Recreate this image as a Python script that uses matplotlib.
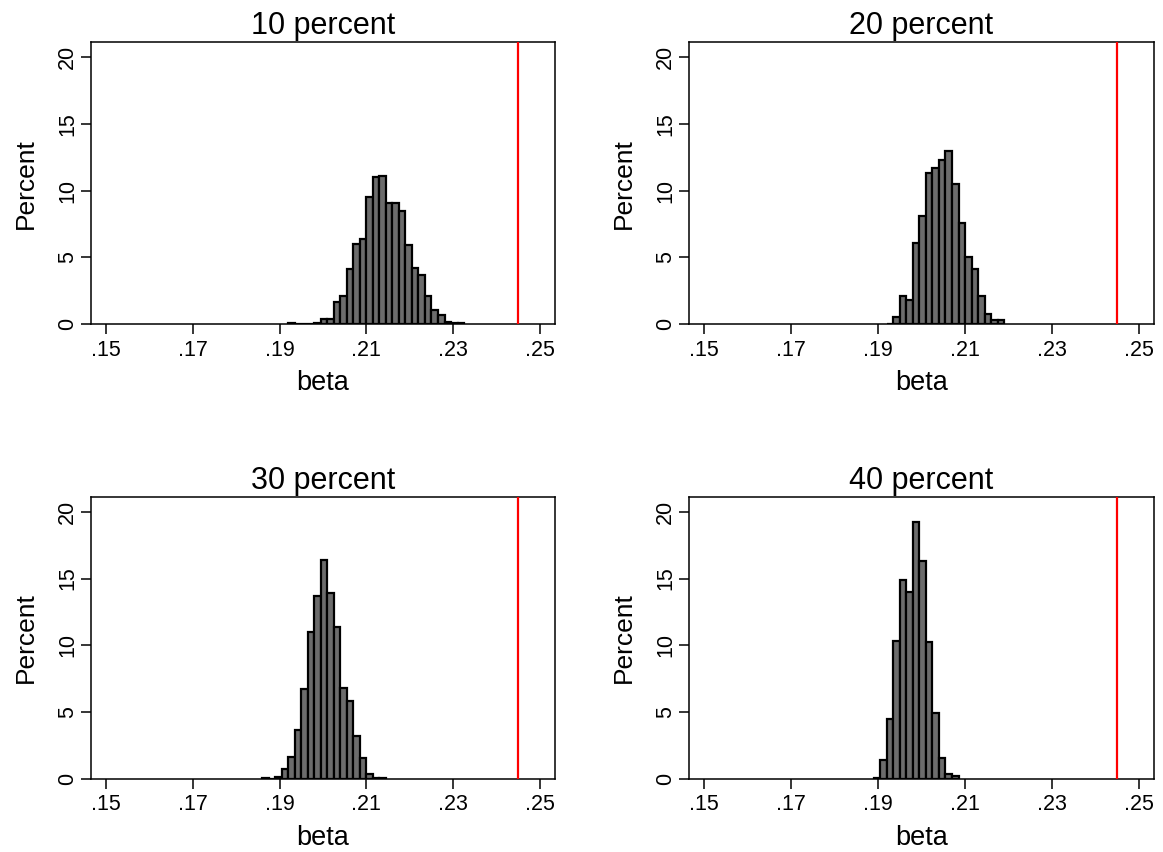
import numpy as np
import matplotlib.pyplot as plt

plt.rcParams['font.family'] = ['Liberation Sans', 'DejaVu Sans']

titles = ['10 percent', '20 percent', '30 percent', '40 percent']
bin_width = 0.0015
true_beta = 0.245

# left edge of the first bin and percent per bin
starts = [0.192, 0.192, 0.186, 0.189]
pct_10 = [0.1, 0, 0, 0, 0.1, 0.4, 0.4, 1.7, 2.1, 4.15, 6.0, 6.4, 9.5, 11.05,
          11.1, 9.1, 9.1, 8.5, 5.9, 4.2, 3.7, 2.1, 1.1, 0.7, 0.2, 0.1, 0.1]
pct_20 = [0.05, 0.55, 2.1, 1.8, 6.05, 8.1, 11.3, 11.7, 12.3, 13.0, 10.5, 7.6,
          5.0, 4.1, 2.1, 0.8, 0.35, 0.35]
pct_30 = [0.05, 0, 0.15, 0.75, 1.65, 3.65, 6.7, 11.0, 13.7, 16.4, 13.9, 11.4,
          6.8, 5.8, 3.25, 1.6, 0.35, 0.1, 0.1]
pct_40 = [0.1, 1.4, 4.5, 10.3, 14.9, 14.0, 19.2, 16.3, 10.25, 4.9, 1.6, 0.4, 0.2]
all_pct = [pct_10, pct_20, pct_30, pct_40]

xticks = [0.15, 0.17, 0.19, 0.21, 0.23, 0.25]
xticklabels = ['.15', '.17', '.19', '.21', '.23', '.25']
yticks = [0, 5, 10, 15, 20]

fig = plt.figure(figsize=(11.63, 8.52), dpi=100)
boxes = [
    [0.078, 0.6194, 0.3992, 0.3310],
    [0.5922, 0.6194, 0.4001, 0.3310],
    [0.078, 0.0857, 0.3992, 0.3310],
    [0.5922, 0.0857, 0.4001, 0.3310],
]

for box, title, start, pct in zip(boxes, titles, starts, all_pct):
    ax = fig.add_axes(box)
    edges = start + bin_width * np.arange(len(pct))
    ax.bar(edges, pct, width=bin_width, align='edge', color='#6c6c6c',
           edgecolor='black', linewidth=1.6, zorder=2)
    ax.axvline(true_beta, color='red', lw=1.6, zorder=3)

    ax.set_xlim(0.14647, 0.25346)
    ax.set_ylim(0, 21.1)
    ax.set_xticks(xticks)
    ax.set_xticklabels(xticklabels)
    ax.set_yticks(yticks)
    ax.set_yticklabels([str(v) for v in yticks], rotation=90, va='center')
    ax.tick_params(direction='out', length=7, width=1.1, labelsize=15.5, pad=4)
    ax.tick_params(axis='y', pad=2)

    for s in ax.spines.values():
        s.set_linewidth(1.1)

    ax.set_title(title, fontsize=22, pad=6)
    ax.set_xlabel('beta', fontsize=19.5, labelpad=7)
    ax.set_ylabel('Percent', fontsize=19, labelpad=14)

fig.savefig('out.png', dpi=100)
